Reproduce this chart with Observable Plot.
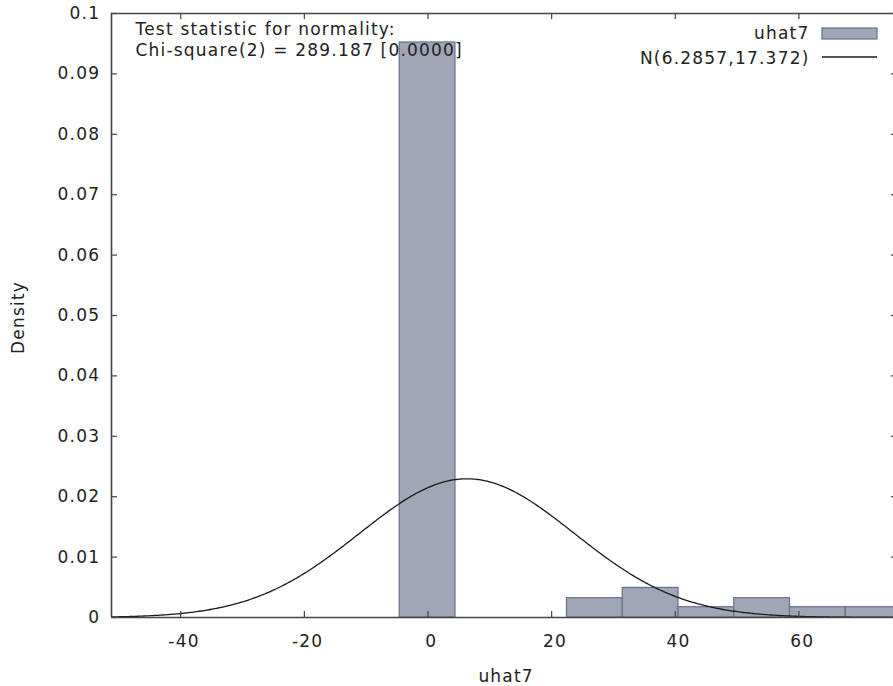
<!DOCTYPE html>
<html>
<head>
<meta charset="utf-8">
<script src="https://cdn.jsdelivr.net/npm/d3@7"></script>
<script src="https://cdn.jsdelivr.net/npm/@observablehq/plot@0.6"></script>
<style>
  html, body { margin: 0; padding: 0; background: #fff; }
  #chart { width: 893px; height: 686px; overflow: hidden; }
  #chart svg text { letter-spacing: 1.2px; }
</style>
</head>
<body>
<div id="chart"></div>
<script>
// ---- data ----
const binStart = [-4.58, 22.48, 31.50, 40.52, 49.54, 58.56, 67.58];
const binEnd   = [ 4.44, 31.50, 40.52, 49.54, 58.56, 67.58, 76.60];
const density  = [0.0952, 0.0032, 0.0049, 0.0017, 0.0032, 0.0017, 0.0017];
const normalMean = 6.2857;
const normalSd = 17.372;
const xTicks = [-40, -20, 0, 20, 40, 60];
const yTicks = [0, 0.01, 0.02, 0.03, 0.04, 0.05, 0.06, 0.07, 0.08, 0.09, 0.1];
const xDomain = [-51.2, 75.3];
const yDomain = [0, 0.1];
const seriesLabel = "uhat7";
const curveLabel = "N(6.2857,17.372)";
const testLine1 = "Test statistic for normality:";
const testLine2 = "Chi-square(2) = 289.187 [0.0000]";
const xLabel = "uhat7";
const yLabel = "Density";

// ---- derived tables ----
const bins = binStart.map((s, i) => ({x1: s, x2: binEnd[i], y: density[i]}));
const curve = d3.range(xDomain[0], xDomain[1] + 0.25, 0.25).map(x => ({
  x,
  y: Math.exp(-0.5 * ((x - normalMean) / normalSd) ** 2) / (normalSd * Math.sqrt(2 * Math.PI))
}));

const frameColor = "#444";
const barFill = "#a0a6b6";
const barStroke = "#68708c";
const curveColor = "#1a1a1a";
const xTickLen = (xDomain[1] - xDomain[0]) * 6 / 782;
const yTickLen = (yDomain[1] - yDomain[0]) * 6 / 604;

const W = 893, H = 686;
const FS = 17;
const chart = Plot.plot({
  width: W, height: H,
  marginLeft: 111, marginRight: 0, marginTop: 13, marginBottom: 69,
  x: {domain: xDomain},
  y: {domain: yDomain},
  style: {fontFamily: "DejaVu Sans, Verdana, sans-serif", fontSize: FS + "px", color: "#222", background: "#fff"},
  marks: [
    Plot.rectY(bins, {x1: "x1", x2: "x2", y: "y", fill: barFill, stroke: barStroke, strokeWidth: 1.2}),
    Plot.line(curve, {x: "x", y: "y", stroke: curveColor, strokeWidth: 1.3, clip: true}),
    // frame lines (left, top, bottom)
    Plot.ruleX([xDomain[0]], {stroke: frameColor, strokeWidth: 1.6}),
    Plot.ruleY([yDomain[1]], {stroke: frameColor, strokeWidth: 1.6}),
    Plot.ruleY([yDomain[0]], {stroke: frameColor, strokeWidth: 1.6}),
    // inward ticks
    Plot.ruleY(yTicks, {y: d => d, x1: xDomain[0], x2: xDomain[0] + xTickLen, stroke: frameColor, strokeWidth: 1.2}),
    Plot.ruleY(yTicks, {y: d => d, x1: xDomain[1] - xTickLen * 0.35, x2: xDomain[1], stroke: frameColor, strokeWidth: 1.2}),
    Plot.ruleX(xTicks, {x: d => d, y1: yDomain[0], y2: yDomain[0] + yTickLen, stroke: frameColor, strokeWidth: 1.2}),
    Plot.ruleX(xTicks, {x: d => d, y1: yDomain[1] - yTickLen, y2: yDomain[1], stroke: frameColor, strokeWidth: 1.2}),
    // axes (labels only)
    Plot.axisX({ticks: xTicks, tickSize: 0, tickPadding: 17, label: null, tickFormat: d => String(d), dx: 3.3}),
    Plot.axisY({ticks: yTicks, tickSize: 0, tickPadding: 11.3, label: null, tickFormat: d => String(+d.toFixed(2))}),
    // axis titles
    Plot.text([xLabel], {text: d => d, frameAnchor: "bottom", lineAnchor: "middle", dy: 58.6, dx: 3.6}),
    Plot.text([yLabel], {text: d => d, frameAnchor: "left", textAnchor: "middle", lineAnchor: "middle", rotate: -90, dx: -93, dy: 2}),
    // test statistic annotation
    Plot.text([testLine1], {text: d => d, frameAnchor: "top-left", textAnchor: "start", lineAnchor: "middle", dx: 24, dy: 16.3}),
    Plot.text([testLine2], {text: d => d, frameAnchor: "top-left", textAnchor: "start", lineAnchor: "middle", dx: 24, dy: 37.5}),
    // legend labels
    Plot.text([seriesLabel], {text: d => d, frameAnchor: "top-right", textAnchor: "end", lineAnchor: "middle", dx: -84, dy: 20.5}),
    Plot.text([curveLabel], {text: d => d, frameAnchor: "top-right", textAnchor: "end", lineAnchor: "middle", dx: -84, dy: 45})
  ]
});
document.getElementById("chart").appendChild(chart);

// legend keys
const svg = d3.select(chart.tagName.toLowerCase() === "svg" ? chart : chart.querySelector("svg"));
svg.append("rect").attr("x", 822).attr("y", 28).attr("width", 55).attr("height", 11)
  .attr("fill", barFill).attr("stroke", barStroke).attr("stroke-width", 1.2);
svg.append("line").attr("x1", 822).attr("x2", 877).attr("y1", 57).attr("y2", 57)
  .attr("stroke", curveColor).attr("stroke-width", 1.3);
</script>
</body>
</html>
